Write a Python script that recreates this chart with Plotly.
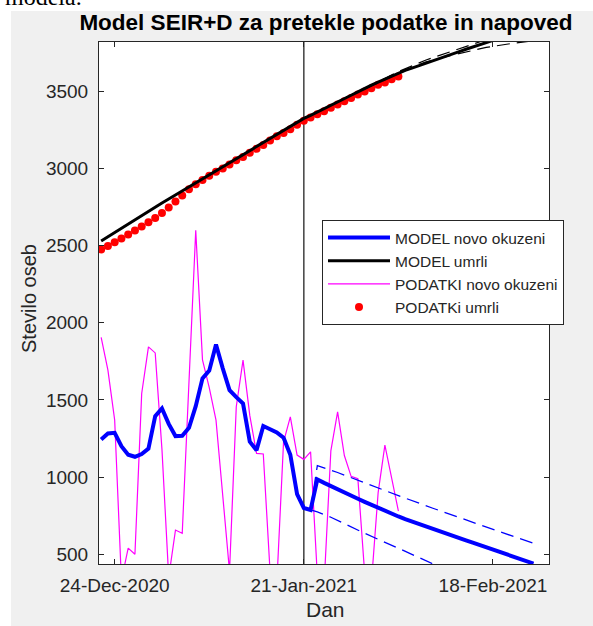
import pandas as pd
import plotly.graph_objects as go

# ---------------- data ----------------
data_start = "2020-12-22"          # first observed day
model_start = "2020-12-22"         # first model day
split_date = "2021-01-21"          # end of fitted period (vertical line)

# PODATKI novo okuzeni (daily new infections), 22-Dec-2020 .. 04-Feb-2021
data_new = [1905, 1693, 1370, 330, 540, 500, 1542, 1844, 1805, 1180,
            350, 657, 636, 1620, 2599, 1760, 1580, 1369, 900, 390,
            1456, 1758, 1400, 1154, 1150, 390, 310, 1229, 1391, 1143,
            1115, 1164, 360, 300, 1170, 1423, 1140, 1005, 990, 380,
            310, 900, 1207, 1000, 780]

# PODATKi umrli (cumulative deaths), 22-Dec-2020 .. 04-Feb-2021
data_dead = [2475, 2498, 2522, 2546, 2572, 2598, 2625, 2652, 2680, 2712,
             2748, 2786, 2826, 2865, 2898, 2926, 2953, 2979, 3000, 3026,
             3053, 3074, 3102, 3128, 3153, 3181, 3209, 3230, 3255, 3283,
             3309, 3330, 3351, 3372, 3394, 3415, 3436, 3457, 3479, 3500,
             3521, 3543, 3557, 3579, 3596]

# MODEL novo okuzeni, 22-Dec-2020 .. 24-Feb-2021
model_new = [1244, 1283, 1287, 1200, 1145, 1132, 1150, 1185, 1395, 1445,
             1345, 1266, 1268, 1320, 1460, 1640, 1690, 1860, 1705, 1564,
             1518, 1477, 1230, 1175, 1331, 1313, 1290, 1255, 1145, 890,
             800, 787, 985, 963, 941, 920, 900, 880, 860, 840,
             820, 800, 780, 763, 745, 728, 712, 696, 680, 665,
             650, 635, 620, 605, 590, 575, 560, 545, 530, 515,
             500, 485, 470, 455, 440]

# MODEL umrli, 22-Dec-2020 .. 24-Feb-2021
model_dead = [2530, 2558, 2586, 2614, 2642, 2669, 2696, 2723, 2751, 2777,
              2803, 2829, 2855, 2881, 2907, 2933, 2959, 2985, 3011, 3037,
              3063, 3089, 3115, 3141, 3167, 3193, 3219, 3245, 3271, 3298,
              3325, 3345, 3366, 3386, 3407, 3430, 3452, 3475, 3497, 3520,
              3540, 3560, 3580, 3600, 3620, 3636, 3651, 3667, 3682, 3697,
              3712, 3728, 3743, 3758, 3773, 3788, 3803, 3818, 3832, 3846,
              3860, 3874, 3888, 3901, 3915]

# forecast bands (dates + values)
band_new_up_dates = ["2021-01-22", "2021-01-23", "2021-01-26", "2021-01-30", "2021-02-04",
                     "2021-02-09", "2021-02-14", "2021-02-19", "2021-02-24"]
band_new_up = [790, 1075, 1030, 962, 880, 800, 722, 646, 572]
band_new_lo_dates = ["2021-01-22", "2021-01-23", "2021-01-25", "2021-01-30", "2021-02-04",
                     "2021-02-09", "2021-02-14", "2021-02-19", "2021-02-24"]
band_new_lo = [787, 775, 740, 636, 539, 440, 350, 270, 200]

band_dead_up_dates = ["2021-01-22", "2021-01-29", "2021-02-04", "2021-02-08", "2021-02-12",
                      "2021-02-16", "2021-02-20"]
band_dead_up = [3345, 3500, 3628, 3702, 3760, 3822, 3880]
band_dead_lo_dates = ["2021-01-22", "2021-01-29", "2021-02-04", "2021-02-08", "2021-02-12",
                      "2021-02-17", "2021-02-21", "2021-02-24"]
band_dead_lo = [3345, 3495, 3615, 3690, 3735, 3785, 3812, 3828]

x_ticks = ["2020-12-24", "2021-01-21", "2021-02-18"]
x_ticklabels = ["24-Dec-2020", "21-Jan-2021", "18-Feb-2021"]
y_ticks = [500, 1000, 1500, 2000, 2500, 3000, 3500]
x_range = ["2020-12-21 16:20", "2021-02-26 07:00"]
y_range = [437, 3820]

data_dates = pd.date_range(data_start, periods=len(data_new), freq="D")
model_dates = pd.date_range(model_start, periods=len(model_new), freq="D")

FONT = "Liberation Sans, Arial, Helvetica, sans-serif"
INK = "#262626"

fig = go.Figure()

fig.add_trace(go.Scatter(x=data_dates, y=data_new, mode="lines",
                         line=dict(color="#ff00ff", width=1.2),
                         name="PODATKI novo okuzeni", legendrank=3))
fig.add_trace(go.Scatter(x=data_dates[:len(data_dead)], y=data_dead, mode="markers",
                         marker=dict(color="#ff0000", size=8),
                         name="PODATKi umrli", legendrank=4))
fig.add_trace(go.Scatter(x=band_new_up_dates, y=band_new_up, mode="lines",
                         line=dict(color="#0000ff", width=1.3, dash="13px,7px"),
                         showlegend=False))
fig.add_trace(go.Scatter(x=band_new_lo_dates, y=band_new_lo, mode="lines",
                         line=dict(color="#0000ff", width=1.3, dash="13px,7px"),
                         showlegend=False))
fig.add_trace(go.Scatter(x=model_dates, y=model_new, mode="lines",
                         line=dict(color="#0000ff", width=4),
                         name="MODEL novo okuzeni", legendrank=1))
fig.add_trace(go.Scatter(x=band_dead_up_dates, y=band_dead_up, mode="lines",
                         line=dict(color="#000000", width=1.2, dash="13px,7px"),
                         showlegend=False))
fig.add_trace(go.Scatter(x=band_dead_lo_dates, y=band_dead_lo, mode="lines",
                         line=dict(color="#000000", width=1.2, dash="13px,7px"),
                         showlegend=False))
fig.add_trace(go.Scatter(x=model_dates, y=model_dead, mode="lines",
                         line=dict(color="#000000", width=3),
                         name="MODEL umrli", legendrank=2))

# fitted / forecast split
fig.add_shape(type="line", xref="x", yref="paper", x0=split_date, x1=split_date,
              y0=0, y1=1, line=dict(color="#404040", width=1.5), layer="below")

# white page strips around the grey MATLAB figure
fig.add_shape(type="rect", xref="paper", yref="paper", x0=-0.23, x1=1.11,
              y0=(564 - 11) / 522, y1=1.1, fillcolor="white", line_width=0, layer="above")
fig.add_shape(type="rect", xref="paper", yref="paper", x0=-0.23, x1=(11 - 99) / 450,
              y0=-0.13, y1=1.1, fillcolor="white", line_width=0, layer="above")

fig.add_annotation(text="modela.", xref="paper", yref="paper",
                   x=(3 - 99) / 450, y=(564 + 3) / 522, xanchor="left", yanchor="middle",
                   showarrow=False, font=dict(family="Liberation Serif, Times New Roman, serif",
                                              size=24, color="black"))

fig.add_annotation(text="Stevilo oseb", xref="paper", yref="paper",
                   x=(29 - 99) / 450, y=(564 - 299) / 522, textangle=-90,
                   xanchor="center", yanchor="middle", showarrow=False,
                   font=dict(family=FONT, size=20, color=INK))
fig.add_annotation(text="Dan", xref="paper", yref="paper",
                   x=(325 - 99) / 450, y=(564 - 609) / 522, xanchor="center", yanchor="middle",
                   showarrow=False, font=dict(family=FONT, size=21, color=INK))

axis_common = dict(showline=True, linecolor=INK, linewidth=1, mirror="allticks",
                   ticks="inside", ticklen=5, tickcolor=INK, showgrid=False,
                   zeroline=False, tickfont=dict(family=FONT, size=19, color=INK))

fig.update_layout(
    width=593, height=626,
    margin=dict(l=99, r=44, t=42, b=62, pad=0),
    paper_bgcolor="#f0f0f0", plot_bgcolor="white",
    title=dict(text="<b>Model SEIR+D za pretekle podatke in napoved</b>",
               x=(326 - 99) / 450, xref="paper", xanchor="center",
               y=1 - 22 / 626, yref="container", yanchor="middle",
               font=dict(family=FONT, size=22.5, color="black")),
    xaxis=dict(type="date", range=x_range, tickvals=x_ticks, ticktext=x_ticklabels,
               ticklabelstandoff=4, **axis_common),
    yaxis=dict(range=y_range, tickvals=y_ticks, ticklabelstandoff=6, **axis_common),
    legend=dict(x=(322 - 99) / 450, y=(564 - 220) / 522, xanchor="left", yanchor="top",
                bgcolor="white", bordercolor=INK, borderwidth=1,
                font=dict(family=FONT, size=15.5, color=INK),
                itemwidth=62, tracegroupgap=0),
    showlegend=True,
)

fig.write_html("out.html")
